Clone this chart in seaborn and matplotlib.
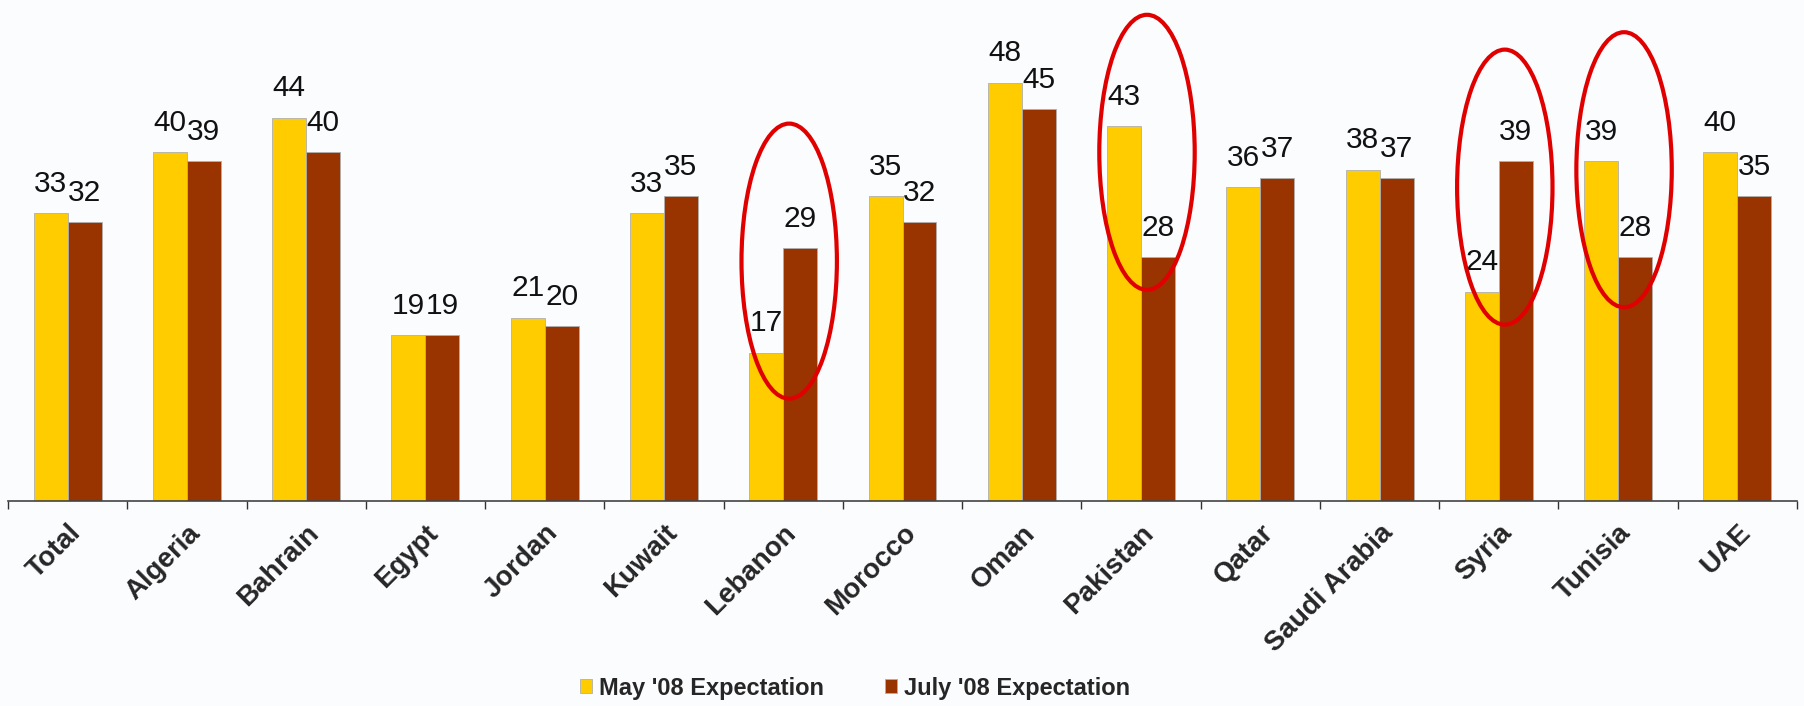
import matplotlib.pyplot as plt
import numpy as np
import pandas as pd
import seaborn as sns
from matplotlib.patches import Ellipse

# chart data
countries = ["Total", "Algeria", "Bahrain", "Egypt", "Jordan", "Kuwait", "Lebanon",
             "Morocco", "Oman", "Pakistan", "Qatar", "Saudi Arabia", "Syria",
             "Tunisia", "UAE"]
may_values = [33, 40, 44, 19, 21, 33, 17, 35, 48, 43, 36, 38, 24, 39, 40]
july_values = [32, 39, 40, 19, 20, 35, 29, 32, 45, 28, 37, 37, 39, 28, 35]
series_names = ["May '08 Expectation", "July '08 Expectation"]
highlighted = ["Lebanon", "Pakistan", "Syria", "Tunisia"]


def draw():
    data = pd.DataFrame({
        "country": countries * 2,
        "value": may_values + july_values,
        "series": [series_names[0]] * len(countries) + [series_names[1]] * len(countries),
    })

    colors_type = {series_names[0]: "#FFCC00", series_names[1]: "#993300"}

    sns.set_style("white")
    plt.rcParams["font.family"] = ["Liberation Sans", "DejaVu Sans"]

    fig = plt.figure(figsize=(18.04, 7.06), dpi=100)
    fig.patch.set_facecolor("#fbfcfe")
    ax = fig.add_axes([8 / 1804, 1 - 500.5 / 706, 1789 / 1804, 500.5 / 706])
    ax.set_facecolor("none")

    sns.barplot(
        data=data,
        x="country",
        y="value",
        hue="series",
        palette=colors_type,
        saturation=1,
        width=0.57,
        edgecolor="#b0b0b0",
        linewidth=0.6,
        ax=ax,
    )

    # value labels on top of each bar
    for container in ax.containers:
        ax.bar_label(container, fmt="%d", padding=11, fontsize=21.5, color="#111111")

    ax.set_xlim(-0.5, len(countries) - 0.5)
    ax.set_ylim(0, 57.5)
    ax.set_xlabel("")
    ax.set_ylabel("")
    ax.set_yticks([])

    # axis: ticks between categories, labels rotated
    ax.set_xticks(np.arange(len(countries)))
    ax.set_xticklabels(countries, rotation=45, ha="right", va="top",
                       rotation_mode="anchor", fontsize=20, fontweight="bold")
    ax.set_xticks(np.arange(-0.5, len(countries), 1), minor=True)
    ax.tick_params(axis="x", which="major", bottom=True, length=0, pad=14)
    ax.tick_params(axis="x", which="minor", bottom=True, length=6, width=1,
                   color="#333333", direction="out")
    for side in ["top", "left", "right"]:
        ax.spines[side].set_visible(False)
    ax.spines["bottom"].set_color("#444444")
    ax.spines["bottom"].set_linewidth(1.2)

    # red ellipses around the highlighted countries
    for name in highlighted:
        i = countries.index(name)
        center_y = (may_values[i] + july_values[i]) / 2 + 4.5
        ell = Ellipse((i + 0.05, center_y), width=0.8, height=31.6,
                      fill=False, edgecolor="#e00000", linewidth=3,
                      zorder=5, clip_on=False)
        ax.add_patch(ell)

    # legend at the bottom
    handles, labels = ax.get_legend_handles_labels()
    ax.get_legend().remove()
    fig.legend(handles, labels, loc="center", bbox_to_anchor=(855 / 1804, 1 - 688 / 706),
               ncol=2, frameon=False, handlelength=0.5, handleheight=0.5,
               handletextpad=0.3, columnspacing=2.6,
               prop={"size": 17, "weight": "bold"})

    fig.savefig("out.png", dpi=100, facecolor=fig.get_facecolor())


def main():
    draw()


if __name__ == "__main__":
    main()
